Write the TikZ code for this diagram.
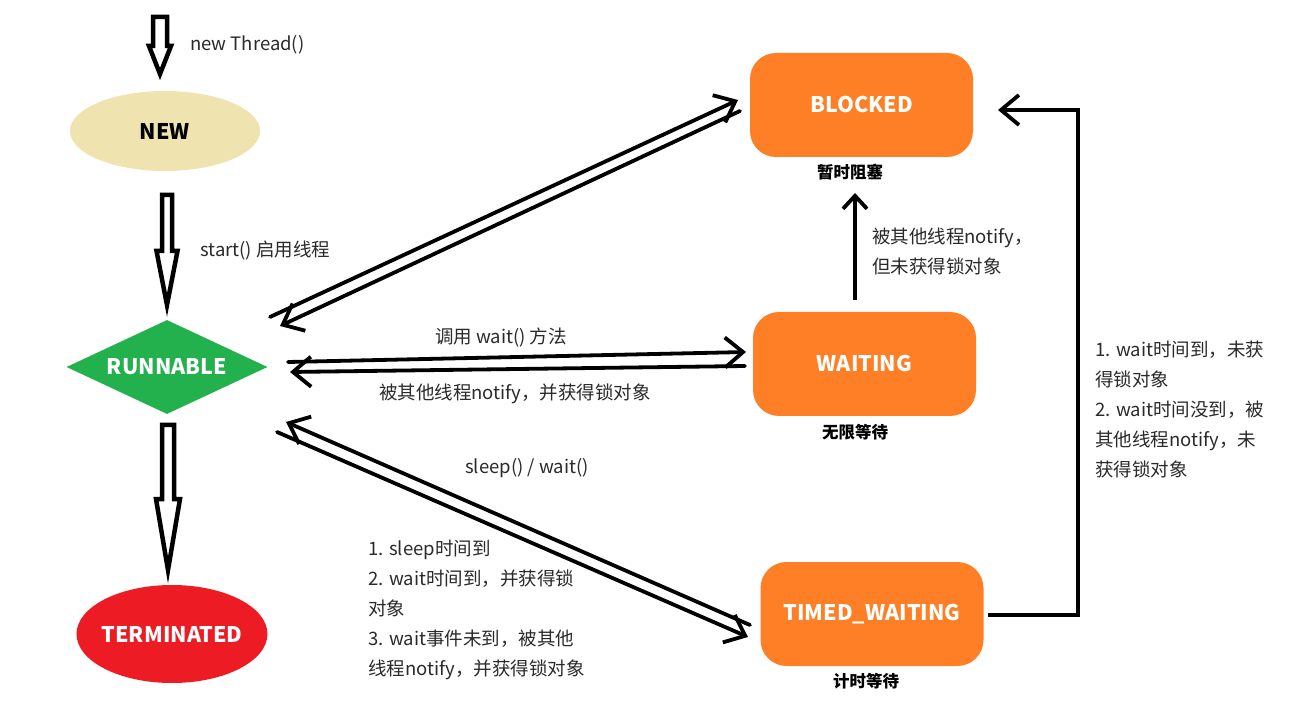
\documentclass[tikz,border=0pt]{standalone}
\usepackage{fontspec}
\setmainfont{Noto Sans CJK SC}
\usetikzlibrary{shapes.geometric,arrows.meta}
\definecolor{tanfill}{HTML}{EFE4B0}
\definecolor{runfill}{HTML}{22B14C}
\definecolor{termfill}{HTML}{ED1C24}
\definecolor{statefill}{HTML}{FF7F27}
\definecolor{txtgray}{HTML}{2A2A2A}
\begin{document}
\begin{tikzpicture}[x=1pt,y=-1pt,
  txt/.style={text=txtgray, font=\fontsize{18.5}{30}\selectfont, inner sep=0pt},
  statetxt/.style={font=\fontsize{21.5}{24}\selectfont\bfseries, inner sep=0pt},
  tag/.style={font=\fontsize{16.5}{20}\selectfont\bfseries, text=black, inner sep=0pt},
  rstate/.style={rectangle, rounded corners=26pt, fill=statefill, text=white, statetxt, minimum width=223pt, minimum height=104pt},
  conn/.style={line width=3.8pt, line cap=round, -{Straight Barb[length=18pt,width=30pt,line width=3.8pt]}},
  hollow/.style={line width=4.5pt, line join=miter, fill=white}]
\useasboundingbox (0,0) rectangle (1304,708);
\fill[white] (0,0) rectangle (1304,708);

% states
\node[ellipse, fill=tanfill, minimum width=190pt, minimum height=80pt, statetxt, text=black] (new) at (165,131) {NEW};
\node[diamond, fill=runfill, minimum width=201pt, minimum height=94pt, shape aspect=2.1, statetxt, text=white] (run) at (167,367) {RUNNABLE};
\fill[termfill] (172,634) ellipse [x radius=95.5, y radius=49];
\node[statetxt, text=white] (term) at (172,634) {TERMINATED};
\node[rstate] (blocked) at (861.5,105) {BLOCKED};
\node[rstate] (waiting) at (864.5,364) {WAITING};
\node[rstate] (timed) at (872,614) {TIMED\_WAITING};

\node[tag] (tagb) at (850,172) {暂时阻塞};
\node[tag] (tagw) at (855,432) {无限等待};
\node[tag] (tagt) at (866,681) {计时等待};

% hollow block arrows
\draw[hollow] (153,17) -- (167,17) -- (167,46) -- (171,46) -- (160,74) -- (149,46) -- (153,46) -- cycle;
\draw[hollow] (162,195) -- (172,195) -- (172,251) -- (177.5,251) -- (167,305) -- (156.5,251) -- (162,251) -- cycle;
\draw[hollow] (162,425) -- (174,425) -- (174,499) -- (180,499) -- (168,570) -- (156,499) -- (162,499) -- cycle;

\node[txt, anchor=west] (lnew) at (190,45) {new Thread()};
\node[txt, anchor=west] (lstart) at (200,251) {start() 启用线程};

% connector end points
\coordinate (rb1) at (270,317);  \coordinate (br1) at (738,100);
\coordinate (br2) at (740,111);  \coordinate (rb2) at (280,326);
\coordinate (rw1) at (288,362);  \coordinate (wr1) at (746,352);
\coordinate (wr2) at (745,366);  \coordinate (rw2) at (290,372);
\coordinate (tr1) at (750,625);  \coordinate (rt1) at (286,422);
\coordinate (rt2) at (277,432);  \coordinate (tr2) at (748,637);
\coordinate (wb1) at (855,300);  \coordinate (bw1) at (855,193);
\coordinate (tb1) at (988,615);  \coordinate (bt1) at (998,110);
\coordinate (corner) at (1078,110);

\draw[conn] (rb1) -- (br1);
\draw[conn] (br2) -- (rb2);
\draw[conn] (rw1) -- (wr1);
\draw[conn] (wr2) -- (rw2);
\draw[conn] (tr1) -- (rt1);
\draw[conn] (rt2) -- (tr2);
\draw[line width=3.8pt, -{Straight Barb[length=13pt,width=24pt,line width=3.8pt]}] (wb1) -- (bw1);
\draw[conn, line join=miter, line cap=butt] (tb1) -| (corner) -- (bt1);

% labels
\node[txt] (lwait) at (501,337) {调用 wait() 方法};
\node[txt] (lnotify) at (515,394) {被其他线程notify，并获得锁对象};
\node[txt] (lsleep) at (527,468) {sleep() / wait()};
\node[txt, anchor=north west, align=left] (ltimed) at (368,540) {1. sleep时间到\\2. wait时间到，并获得锁\\对象\\3. wait事件未到，被其他\\线程notify，并获得锁对象};
\node[txt, anchor=north west, align=left] (lblock) at (872,228) {被其他线程notify，\\但未获得锁对象};
\node[txt, anchor=north west, align=left] (lloop) at (1095,341) {1. wait时间到，未获\\得锁对象\\2. wait时间没到，被\\其他线程notify，未\\获得锁对象};
\end{tikzpicture}
\end{document}
